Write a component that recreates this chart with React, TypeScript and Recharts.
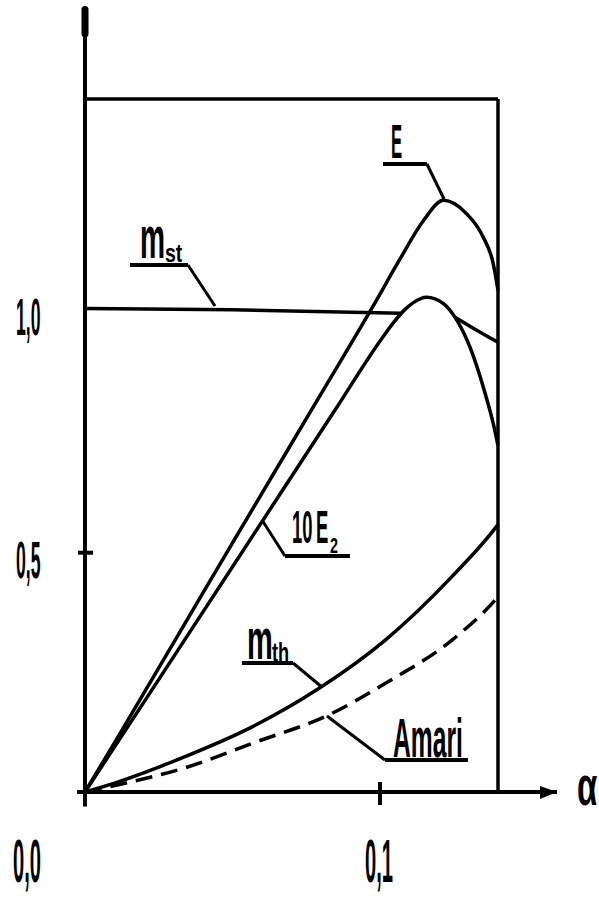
import React from "react";
import { LineChart, Line, XAxis, YAxis, ReferenceLine, ReferenceDot } from "recharts";

// values (α on x, curve value on y)
const alphaE = [0, 0.0113, 0.0339, 0.0571, 0.0785, 0.0977, 0.1068, 0.1147, 0.1215, 0.1294, 0.135, 0.1384, 0.14];
const valuesE = [0, 0.115, 0.348, 0.587, 0.806, 1.003, 1.1, 1.179, 1.221, 1.193, 1.145, 1.09, 1.035];

const alpha10E2 = [0, 0.0113, 0.0339, 0.0627, 0.0842, 0.1011, 0.1045, 0.1085, 0.1113, 0.1158, 0.1215, 0.1254, 0.1305, 0.135, 0.1384, 0.14];
const values10E2 = [0, 0.105, 0.315, 0.583, 0.783, 0.94, 0.968, 0.996, 1.01, 1.021, 1.008, 0.98, 0.918, 0.836, 0.76, 0.715];

// m_st runs into the 10E2 hump, so it has a gap there
const alphaMst = [0, 0.05, 0.1073, 0.116, 0.1254, 0.1328, 0.14];
const valuesMst = [0.998, 0.995, 0.988, null, 0.98, 0.953, 0.928];

const alphaMth = [0, 0.0113, 0.0339, 0.0565, 0.0791, 0.1017, 0.1243, 0.139, 0.14];
const valuesMth = [0, 0.021, 0.073, 0.134, 0.213, 0.313, 0.444, 0.544, 0.552];

const alphaAmari = [0, 0.0113, 0.0339, 0.0565, 0.0836, 0.1017, 0.1243, 0.139, 0.14];
const valuesAmari = [0, 0.015, 0.05, 0.1, 0.162, 0.224, 0.313, 0.396, 0.403];

const xTicks = [0, 0.1];
const xTickLabels = ["0,0", "0,1"];
const yTicks = [0.5, 1];
const yTickLabels = ["0,5", "1,0"];

const X_MAX = 0.16;
const Y_MAX = 1.62;
const BOX_RIGHT = 0.14;
const BOX_TOP = 1.43;

const INK = "#000";
const FONT = "'Liberation Sans', Arial, sans-serif";

const toPoints = (xs: number[], ys: (number | null)[]) =>
  xs.map((x, i) => ({ x, y: ys[i] }));

// labels with underline + leader line, in data units
const notes = [
  {
    id: "E", y: 1.296, x0: 0.101, x1: 0.1159, from: "end", tip: { x: 0.1217, y: 1.2238 },
    text: [{ t: "E", dx: 8, dy: -6, size: 49, sx: 0.34 }],
  },
  {
    id: "mst", y: 1.0876, x0: 0.01525, x1: 0.0349, from: "end", tip: { x: 0.04407, y: 1.003 },
    text: [
      { t: "m", dx: 10, dy: -7, size: 60, sx: 0.47 },
      { t: "st", dx: 35, dy: -3, size: 26, sx: 0.75 },
    ],
  },
  {
    id: "10E2", y: 0.487, x0: 0.0678, x1: 0.0898, from: "start", tip: { x: 0.06, y: 0.5613 },
    text: [
      { t: "10", dx: 7, dy: -13, size: 46, sx: 0.4 },
      { t: "E", dx: 31, dy: -13, size: 46, sx: 0.4 },
      { t: "2", dx: 45, dy: -3, size: 22, sx: 0.65 },
    ],
  },
  {
    id: "mth", y: 0.2662, x0: 0.0532, x1: 0.0705, from: "end", tip: { x: 0.0803, y: 0.2167 },
    text: [
      { t: "m", dx: 5, dy: -4, size: 58, sx: 0.5 },
      { t: "th", dx: 30, dy: -1, size: 28, sx: 0.65 },
    ],
  },
  {
    id: "Amari", y: 0.066, x0: 0.1017, x1: 0.1298, from: "start", tip: { x: 0.082, y: 0.1568 },
    text: [{ t: "Amari", dx: 8, dy: -3, size: 56, sx: 0.44 }],
  },
];

function HandText({ x, y, size, sx, children }: any) {
  return (
    <text
      transform={`translate(${x},${y}) scale(${sx},1)`}
      fontSize={size}
      fontFamily={FONT}
      fontWeight={700}
      fill={INK}
    >
      {children}
    </text>
  );
}

function XTick({ x, y, payload }: any) {
  const i = xTicks.indexOf(payload.value);
  const dx = payload.value === 0 ? -72 : -15;
  return (
    <g>
      {payload.value !== 0 && (
        <line x1={x} x2={x} y1={y - 10} y2={y + 13} stroke={INK} strokeWidth={4} />
      )}
      <HandText x={x + dx} y={y + 90} size={61} sx={0.33}>
        {xTickLabels[i]}
      </HandText>
    </g>
  );
}

function YTick({ x, y, payload }: any) {
  const i = yTicks.indexOf(payload.value);
  return (
    <g>
      {payload.value === 0.5 && (
        <line x1={x - 7} x2={x + 8} y1={y + 3} y2={y + 3} stroke={INK} strokeWidth={4} />
      )}
      <HandText x={x - 69} y={y + 28} size={52} sx={0.34}>
        {yTickLabels[i]}
      </HandText>
    </g>
  );
}

const curveProps = {
  type: "monotone" as const,
  dataKey: "y",
  stroke: INK,
  strokeWidth: 3.5,
  dot: false,
  activeDot: false,
  isAnimationActive: false,
};

const segProps = { stroke: INK, ifOverflow: "visible" as const };

export default function App() {
  return (
    <div style={{ position: "absolute", left: 0, top: 0, background: "#fff" }}>
      <LineChart width={599} height={898} margin={{ top: 7, right: 42, bottom: 76, left: 25 }}>
        <XAxis
          type="number"
          dataKey="x"
          domain={[0, X_MAX]}
          ticks={xTicks}
          interval={0}
          height={30}
          tickSize={0}
          tickMargin={0}
          tickLine={false}
          axisLine={{ stroke: INK, strokeWidth: 4 }}
          tick={<XTick />}
          allowDataOverflow
        />
        <YAxis
          type="number"
          dataKey="y"
          domain={[0, Y_MAX]}
          ticks={yTicks}
          interval={0}
          width={60}
          tickSize={0}
          tickMargin={0}
          tickLine={false}
          axisLine={{ stroke: INK, strokeWidth: 4 }}
          tick={<YTick />}
          allowDataOverflow
        />

        {/* frame, axis stubs and the thick tip of the y axis */}
        <ReferenceLine {...segProps} strokeWidth={3.5} segment={[{ x: 0, y: BOX_TOP }, { x: BOX_RIGHT, y: BOX_TOP }]} />
        <ReferenceLine {...segProps} strokeWidth={3.5} segment={[{ x: BOX_RIGHT, y: 0 }, { x: BOX_RIGHT, y: BOX_TOP }]} />
        <ReferenceLine {...segProps} strokeWidth={4} segment={[{ x: 0, y: 0 }, { x: 0, y: -0.03 }]} />
        <ReferenceLine {...segProps} strokeWidth={4} segment={[{ x: -0.0027, y: 0 }, { x: 0, y: 0 }]} />
        <ReferenceLine {...segProps} strokeWidth={7} strokeLinecap="round" segment={[{ x: 0, y: 1.565 }, { x: 0, y: 1.615 }]} />
        <ReferenceDot
          x={X_MAX}
          y={0}
          r={0}
          ifOverflow="visible"
          shape={(p: any) => (
            <g>
              <polygon
                points={`${p.cx},${p.cy} ${p.cx - 17},${p.cy - 6} ${p.cx - 17},${p.cy + 7}`}
                fill={INK}
              />
              <HandText x={p.cx + 20} y={p.cy + 13} size={55} sx={0.6}>
                α
              </HandText>
            </g>
          )}
        />

        <Line {...curveProps} data={toPoints(alphaE, valuesE)} />
        <Line {...curveProps} data={toPoints(alpha10E2, values10E2)} />
        <Line {...curveProps} data={toPoints(alphaMst, valuesMst)} connectNulls={false} />
        <Line {...curveProps} data={toPoints(alphaMth, valuesMth)} />
        <Line {...curveProps} data={toPoints(alphaAmari, valuesAmari)} strokeDasharray="17 9" />

        {notes.flatMap((n) => {
          const start = n.from === "end" ? { x: n.x1, y: n.y } : { x: n.x0, y: n.y };
          return [
            <ReferenceLine
              key={n.id + "-u"}
              {...segProps}
              strokeWidth={4}
              segment={[{ x: n.x0, y: n.y }, { x: n.x1, y: n.y }]}
            />,
            <ReferenceLine key={n.id + "-l"} {...segProps} strokeWidth={3} segment={[start, n.tip]} />,
            <ReferenceDot
              key={n.id + "-t"}
              x={n.x0}
              y={n.y}
              r={0}
              ifOverflow="visible"
              shape={(p: any) => (
                <g>
                  {n.text.map((t: any) => (
                    <HandText key={t.t} x={p.cx + t.dx} y={p.cy + t.dy} size={t.size} sx={t.sx}>
                      {t.t}
                    </HandText>
                  ))}
                </g>
              )}
            />,
          ];
        })}
      </LineChart>
    </div>
  );
}
